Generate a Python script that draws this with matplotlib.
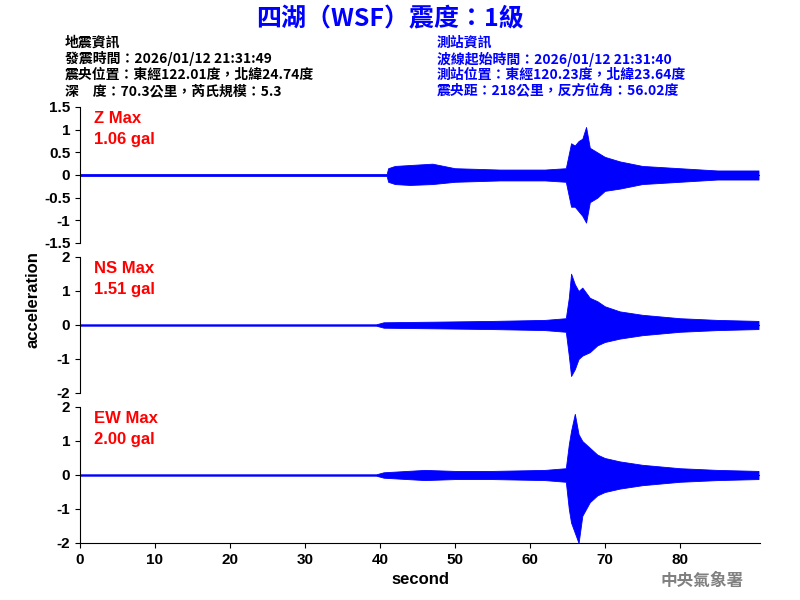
import matplotlib
matplotlib.use("Agg")
import matplotlib.pyplot as plt

plt.rcParams['font.family'] = ['Noto Sans CJK TC', 'DejaVu Sans']

# Envelope breakpoints: time (s), upper, lower
z_t  = [0, 40.9, 41.1, 42, 44, 47, 50, 56, 62, 64.8, 65.5, 66, 66.5, 67, 67.5, 68, 69, 70, 72, 75, 80, 85, 90.5]
z_up = [0.02, 0.02, 0.15, 0.2, 0.22, 0.25, 0.15, 0.12, 0.12, 0.15, 0.7, 0.65, 0.75, 0.8, 1.06, 0.6, 0.5, 0.4, 0.3, 0.2, 0.15, 0.1, 0.1]
z_lo = [-0.02, -0.02, -0.15, -0.2, -0.22, -0.2, -0.15, -0.12, -0.12, -0.15, -0.7, -0.7, -0.8, -0.9, -1.05, -0.6, -0.5, -0.35, -0.3, -0.2, -0.15, -0.1, -0.1]

ns_t  = [0, 39.5, 40.5, 48, 55, 62, 64.8, 65.2, 65.5, 66, 66.5, 67, 68, 69, 70, 72, 75, 80, 85, 90.5]
ns_up = [0.02, 0.02, 0.08, 0.1, 0.12, 0.15, 0.2, 0.8, 1.51, 1.2, 1.0, 1.1, 0.8, 0.7, 0.55, 0.4, 0.3, 0.2, 0.15, 0.12]
ns_lo = [-0.02, -0.02, -0.08, -0.1, -0.12, -0.15, -0.2, -0.9, -1.5, -1.3, -1.0, -0.9, -0.8, -0.6, -0.5, -0.4, -0.3, -0.2, -0.15, -0.12]

ew_t  = [0, 39.5, 40.5, 46, 50, 55, 62, 64.8, 65.2, 65.5, 66, 66.5, 67, 68, 69, 70, 72, 75, 80, 85, 90.5]
ew_up = [0.02, 0.02, 0.08, 0.15, 0.12, 0.12, 0.15, 0.2, 0.9, 1.3, 1.8, 1.2, 1.0, 0.8, 0.6, 0.5, 0.4, 0.3, 0.2, 0.15, 0.12]
ew_lo = [-0.02, -0.02, -0.08, -0.15, -0.12, -0.12, -0.15, -0.2, -1.0, -1.4, -1.7, -2.0, -1.2, -0.8, -0.6, -0.5, -0.4, -0.3, -0.2, -0.15, -0.12]

labels = ["Z Max\n1.06 gal", "NS Max\n1.51 gal", "EW Max\n2.00 gal"]
ylims = [(-1.5, 1.5), (-2, 2), (-2, 2)]
yticks = [[-1.5, -1, -0.5, 0, 0.5, 1, 1.5], [-2, -1, 0, 1, 2], [-2, -1, 0, 1, 2]]
ytl = [["-1.5", "-1", "-0.5", "0", "0.5", "1", "1.5"], ["-2", "-1", "0", "1", "2"], ["-2", "-1", "0", "1", "2"]]
data = [(z_t, z_up, z_lo), (ns_t, ns_up, ns_lo), (ew_t, ew_up, ew_lo)]

AR = 'Liberation Sans'
fig = plt.figure(figsize=(8, 6), dpi=100)
tops = [107, 257, 407]
for i in range(3):
    top = tops[i]
    ax = fig.add_axes([80/800, 1 - (top + 136)/600, 680/800, 136/600])
    t, up, lo = data[i]
    ax.fill_between(t, lo, up, color='blue', lw=0.6, edgecolor='blue')
    ax.axhline(0, color='blue', lw=0.8)
    ax.set_xlim(0, 90.7)
    ax.set_ylim(*ylims[i])
    ax.set_yticks(yticks[i])
    ax.set_yticklabels(ytl[i], fontsize=11, family=AR, fontweight='bold')
    for s in ['top', 'right']:
        ax.spines[s].set_visible(False)
    if i < 2:
        ax.spines['bottom'].set_visible(False)
        ax.set_xticks([])
    else:
        ax.set_xticks(range(0, 90, 10))
        ax.set_xticklabels([str(v) for v in range(0, 90, 10)], fontsize=11, family=AR, fontweight='bold')
        ax.set_xlabel("second", fontsize=12, family=AR, fontweight='bold')
    ax.text(0.02, 0.97, labels[i], transform=ax.transAxes, color='red', fontsize=12,
            va='top', ha='left', linespacing=1.5, family=AR, fontweight='bold')

fig.text(33/800, 1 - 300/600, "acceleration", rotation=90, fontsize=12, va='center', ha='center', family=AR, fontweight='bold')
fig.text(390/800, 1 - 19/600, "四湖（WSF）震度：1級", color='blue', fontsize=18, fontweight='bold', ha='center', va='center')

left = ["地震資訊", "發震時間：2026/01/12 21:31:49", "震央位置：東經122.01度，北緯24.74度", "深　度：70.3公里，芮氏規模：5.3"]
right = ["測站資訊", "波線起始時間：2026/01/12 21:31:40", "測站位置：東經120.23度，北緯23.64度", "震央距：218公里，反方位角：56.02度"]
for k in range(4):
    y = 1 - (43 + 16*k)/600
    fig.text(65/800, y, left[k], fontsize=10, fontweight='bold', va='center', ha='left')
    fig.text(437/800, y, right[k], fontsize=10, fontweight='bold', color='blue', va='center', ha='left')

fig.text(702/800, 1 - 581/600, "中央氣象署", color='grey', fontsize=12, fontweight='bold', ha='center', va='center')
fig.savefig("out.png", dpi=100)
